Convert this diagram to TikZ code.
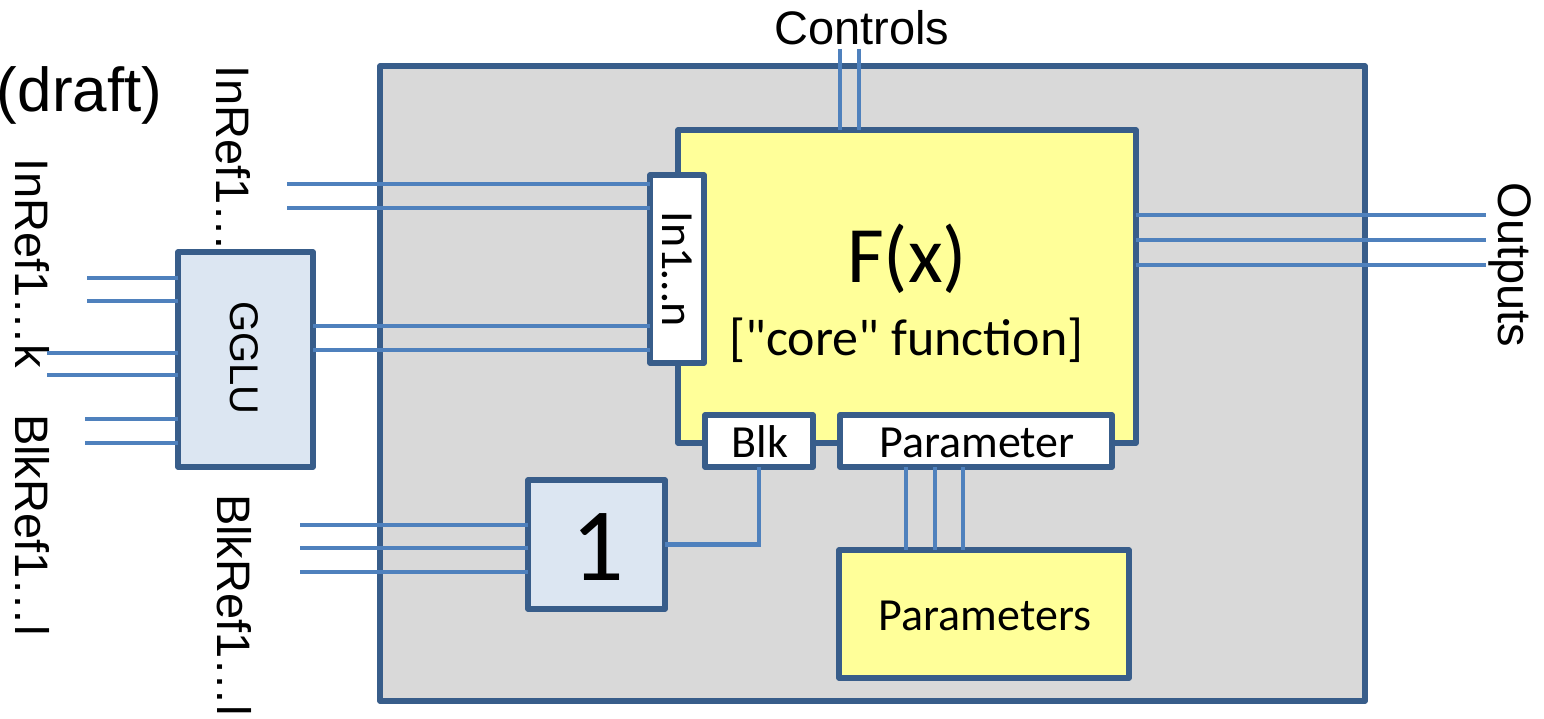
\documentclass[tikz,border=0pt]{standalone}
\usepackage{fontspec}
\setmainfont{Liberation Sans}
\newfontfamily\calibri[Ligatures=TeXOff]{Carlito}
\definecolor{bord}{RGB}{56,93,138}
\definecolor{wire}{RGB}{79,129,189}
\definecolor{grayfill}{RGB}{217,217,217}
\definecolor{yel}{RGB}{255,255,153}
\definecolor{lblue}{RGB}{220,230,242}
\begin{document}
\begin{tikzpicture}[x=1pt,y=-1pt,
  box/.style={draw=bord, line width=5.2pt, line join=round, inner sep=0pt, outer sep=0pt},
  wireline/.style={draw=wire, line width=4.4pt},
  arial/.style={font=\fontsize{47}{50}\selectfont, inner sep=0pt, outer sep=0pt},
  cal/.style={font=\calibri\fontsize{46}{50}\selectfont, inner sep=0pt, outer sep=0pt}]
\useasboundingbox (0,0) rectangle (1544,719);

% boxes
\node[box, line width=5.6pt, fill=grayfill, minimum width=985pt, minimum height=635pt] (outer) at (872.5,383.5) {};
\node[box, fill=yel, minimum width=458pt, minimum height=313pt] (fx) at (907,286.5) {};
\node[box, fill=white, minimum width=54pt, minimum height=188pt] (inport) at (677,269) {};
\node[box, fill=white, minimum width=108pt, minimum height=52pt] (blk) at (759,441) {};
\node[box, fill=white, minimum width=272pt, minimum height=52pt] (param) at (976,441) {};
\node[box, fill=lblue, minimum width=137pt, minimum height=129pt] (one) at (596.5,544.5) {};
\node[box, fill=yel, minimum width=290pt, minimum height=128pt] (params) at (984,614) {};
\node[box, fill=lblue, minimum width=135pt, minimum height=215pt] (gglu) at (245.5,359.5) {};

% labels inside boxes
\node[cal, font=\calibri\fontsize{80}{84}\selectfont, anchor=base] (fxlab) at (907,283) {F(x)};
\node[cal, font=\calibri\fontsize{52}{56}\selectfont, anchor=base] (corelab) at (906.5,355) {["core" function]};
\node[cal, rotate=-90, anchor=base] (inlab) at (662,269) {In1…n};
\node[cal, anchor=base] (blklab) at (760,457) {Blk};
\node[cal, anchor=base] (paramlab) at (977,457) {Parameter};
\node[cal, anchor=base] (paramslab) at (985,630) {Parameters};
\node[cal, font=\calibri\fontsize{104}{110}\selectfont, anchor=base] (onelab) at (598,580) {1};
\node[arial, font=\fontsize{40}{44}\selectfont, rotate=-90, anchor=base] (gglulab) at (230,358) {GGLU};

% outside labels
\node[arial, anchor=base] (ctl) at (862,45) {Controls};
\node[arial, font=\fontsize{62}{66}\selectfont, anchor=base west] (draft) at (-3,112) {(draft)};
\node[arial, rotate=-90, anchor=base west] (inref) at (216,66) {InRef1…};
\node[arial, rotate=-90, anchor=base west] (inrefk) at (16,159) {InRef1…k};
\node[arial, rotate=-90, anchor=base west] (blkrefa) at (16,414) {BlkRef1…l};
\node[arial, rotate=-90, anchor=base west] (blkrefb) at (217,494) {BlkRef1…l};
\node[arial, rotate=-90, anchor=base] (outlab) at (1498,265) {Outputs};

% free ends and rows
\coordinate (ctlA) at (840,49);
\coordinate (ctlB) at (859,49);
\coordinate (outA) at (1486,215);
\coordinate (outB) at (1486,240);
\coordinate (outC) at (1486,265);
\coordinate (inA) at (287,184);
\coordinate (inB) at (287,208);
\coordinate (gA) at (0,326);
\coordinate (gB) at (0,350);
\coordinate (k1) at (87,278);
\coordinate (k2) at (87,301);
\coordinate (k3) at (47,353);
\coordinate (k4) at (47,375);
\coordinate (k5) at (85,419);
\coordinate (k6) at (85,443);
\coordinate (b1) at (300,525);
\coordinate (b2) at (300,548);
\coordinate (b3) at (300,572);
\coordinate (p1) at (906,0);
\coordinate (p2) at (935,0);
\coordinate (p3) at (963,0);

% connectors
\draw[wireline] (ctlA) -- (ctlA |- fx.north);
\draw[wireline] (ctlB) -- (ctlB |- fx.north);
\draw[wireline] (outA -| fx.east) -- (outA);
\draw[wireline] (outB -| fx.east) -- (outB);
\draw[wireline] (outC -| fx.east) -- (outC);
\draw[wireline] (inA) -- (inA -| inport.west);
\draw[wireline] (inB) -- (inB -| inport.west);
\draw[wireline] (gA -| gglu.east) -- (gA -| inport.west);
\draw[wireline] (gB -| gglu.east) -- (gB -| inport.west);
\foreach \k in {k1,k2,k3,k4,k5,k6}{
  \draw[wireline] (\k) -- (\k -| gglu.west);
}
\foreach \b in {b1,b2,b3}{
  \draw[wireline] (\b) -- (\b -| one.west);
}
\foreach \p in {p1,p2,p3}{
  \draw[wireline] (\p |- param.south) -- (\p |- params.north);
}
\draw[wireline] (one.east) -- (one.east -| blk.south) -- (blk.south);
\end{tikzpicture}
\end{document}
